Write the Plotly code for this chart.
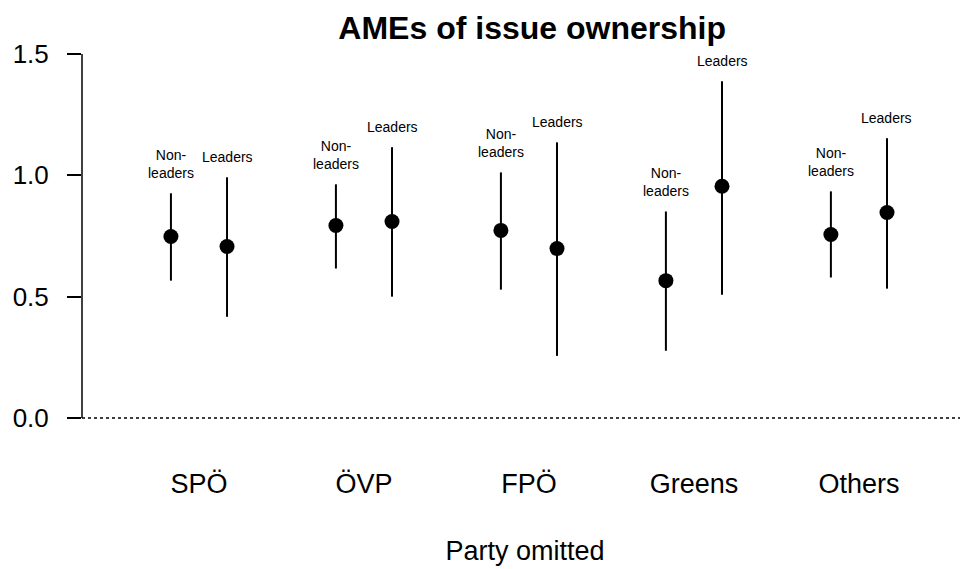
import plotly.graph_objects as go

parties = ["SPÖ", "ÖVP", "FPÖ", "Greens", "Others"]
groups = ["Non-leaders", "Leaders"]
group_labels = ["Non-<br>leaders", "Leaders"]
group_offset = [-0.17, 0.17]

est_nonleaders = [0.748, 0.793, 0.773, 0.566, 0.756]
lo_nonleaders = [0.566, 0.616, 0.529, 0.277, 0.579]
hi_nonleaders = [0.926, 0.963, 1.012, 0.851, 0.934]

est_leaders = [0.707, 0.810, 0.698, 0.955, 0.847]
lo_leaders = [0.417, 0.500, 0.256, 0.508, 0.533]
hi_leaders = [0.992, 1.116, 1.136, 1.388, 1.153]

y_ticks = [0.0, 0.5, 1.0, 1.5]
y_ticktext = ["0.0", "0.5", "1.0", "1.5"]

FONT = "Liberation Sans, Arial, sans-serif"

fig = go.Figure()
annotations = []
for g, (est, lo, hi) in enumerate([(est_nonleaders, lo_nonleaders, hi_nonleaders),
                                    (est_leaders, lo_leaders, hi_leaders)]):
    xs = [i + 1 + group_offset[g] for i in range(len(parties))]
    fig.add_trace(go.Scatter(
        x=xs, y=est, mode="markers", name=groups[g],
        marker=dict(color="black", size=15),
        error_y=dict(type="data", symmetric=False,
                     array=[h - e for h, e in zip(hi, est)],
                     arrayminus=[e - l for e, l in zip(est, lo)],
                     color="black", thickness=2, width=0),
        showlegend=False,
    ))
    for x, h in zip(xs, hi):
        annotations.append(dict(
            x=x, y=h, xref="x", yref="y", text=group_labels[g],
            showarrow=False, yanchor="bottom", yshift=10,
            font=dict(family=FONT, size=14, color="black"),
        ))

fig.add_shape(type="line", xref="paper", yref="y", x0=0, x1=1, y0=0, y1=0,
              line=dict(color="black", width=1.5, dash="dot"))
fig.add_shape(type="line", xref="paper", yref="y", x0=0, x1=0, y0=0, y1=1.5,
              line=dict(color="black", width=1.5))

fig.update_layout(
    width=960, height=561,
    margin=dict(l=74, r=0, t=32, b=129),
    plot_bgcolor="white", paper_bgcolor="white",
    font=dict(family=FONT, color="black"),
    title=dict(text="<b>AMEs of issue ownership</b>", x=0.546, xanchor="center",
               y=0.964, yanchor="middle", font=dict(size=32, family=FONT)),
    annotations=annotations,
    xaxis=dict(range=[0.291, 5.661], tickvals=[1, 2, 3, 4, 5], ticktext=parties,
               showgrid=False, zeroline=False, showline=False, ticks="",
               tickfont=dict(size=27), ticklabelstandoff=25,
               title=dict(text="Party omitted", font=dict(size=27), standoff=43)),
    yaxis=dict(range=[-0.0907, 1.5577], tickvals=y_ticks, ticktext=y_ticktext,
               showgrid=False, zeroline=False, showline=False,
               ticks="outside", ticklen=14, tickwidth=1.5, tickcolor="black",
               tickfont=dict(size=26), ticklabelstandoff=13),
)

fig.write_html("out.html")
